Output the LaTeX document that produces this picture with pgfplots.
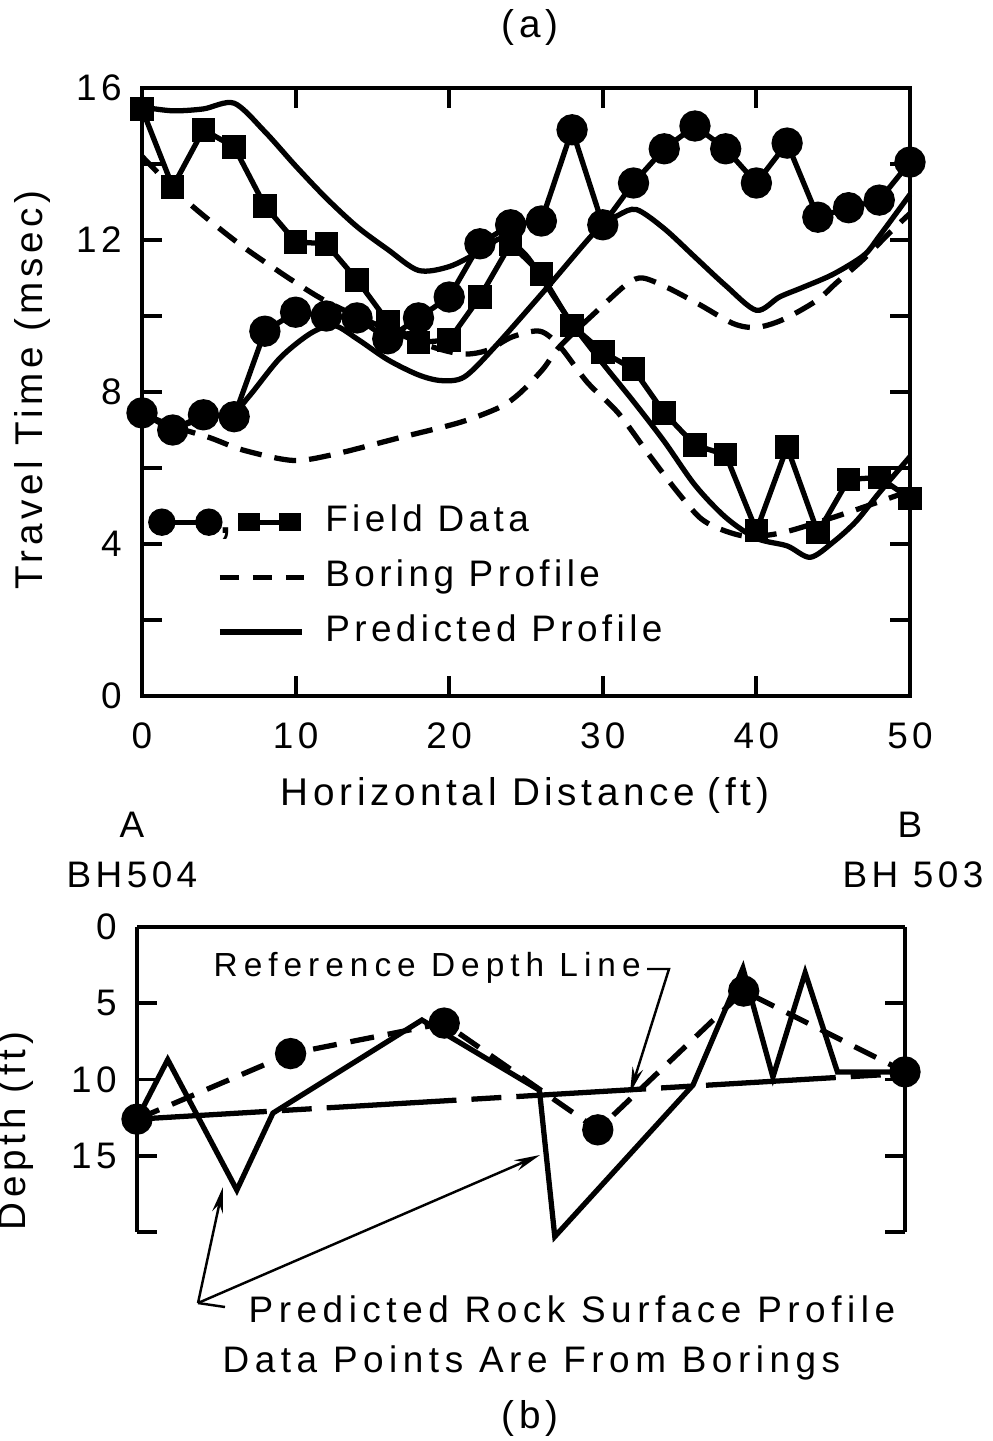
\documentclass[border=0pt]{standalone}
\usepackage{fontspec}
\setmainfont{Liberation Sans}
\newfontfamily\lsf{Liberation Sans}[LetterSpace=12]
\newfontfamily\lsfw{Liberation Sans}[LetterSpace=18]
\newfontfamily\lsfm{Liberation Sans}[LetterSpace=15]
\usepackage{pgfplots}
\pgfplotsset{compat=1.18}
\usetikzlibrary{arrows.meta}

\pgfplotsset{
  mystyle/.style={
    scale only axis,
    axis line style={line width=1.1pt},
    every tick/.style={black, line width=1.1pt},
    major tick length=2mm, minor tick length=2mm,
    tick align=inside,
    /pgf/number format/assume math mode=true,
    ticklabel style={font=\lsf\fontsize{10.5}{12}\selectfont},
  },
  fd/.style={black, line width=1.5pt, forget plot},
  bp/.style={black, line width=1.5pt, dash pattern=on 2.2mm off 1.3mm, smooth, tension=0.5, forget plot},
  pp/.style={black, line width=1.5pt, smooth, tension=0.5, forget plot},
}

\begin{document}
\begin{tikzpicture}[font=\lsf\fontsize{10.5}{12}\selectfont]
\useasboundingbox (0,0) rectangle (99.2mm,-144.1mm);

% ---------------- (a) ----------------
\begin{axis}[mystyle,
  at={(14.2mm,-69.6mm)}, anchor=south west,
  width=76.8mm, height=60.8mm,
  xmin=0, xmax=50, ymin=0, ymax=16,
  xtick={0,10,...,50}, ytick={0,4,...,16}, minor ytick={2,6,10,14},
  xticklabel style={yshift=-1.4mm},
  yticklabel style={xshift=-0.8mm},
  clip=false,
  legend cell align=left,
  legend style={draw=none, fill=none, at={(0.008,0.318)}, anchor=north west,
    inner sep=0pt, outer sep=0pt, row sep=1.6mm, column sep=1.6mm,
    nodes={inner sep=0.3mm, text height=2.6mm, text depth=0.7mm,
      font=\lsf\fontsize{10.5}{12}\selectfont}},
]
% boring profiles
\addplot[bp] coordinates {(0,14.2) (2.7,13.1) (4.9,12.35) (7,11.7) (10.3,10.8) (12.4,10.3) (15.7,9.7) (18.8,9.2) (20.9,9.0) (22.5,9.1) (24.1,9.45) (25.9,9.6) (27.2,9.2) (29,8.25) (31,7.45) (33.1,6.3) (34.8,5.4) (36.3,4.7) (37.6,4.4) (39.4,4.2) (41.7,4.3) (45,4.7) (47.9,5.1) (50,5.4)};
\addplot[bp] coordinates {(0,7.45) (2,7.1) (4.4,6.8) (6.6,6.47) (9.8,6.2) (12.4,6.35) (16.8,6.8) (20.7,7.2) (23.3,7.6) (24.6,7.97) (26.1,8.6) (27.2,9.2) (29.8,10.2) (31.6,10.85) (32.6,11.0) (34.2,10.75) (36.3,10.3) (38.5,9.8) (40,9.7) (41.7,9.9) (43.9,10.4) (45.2,10.87) (46.9,11.47) (48.7,12.2) (50,12.7)};
% predicted profiles
\addplot[pp] coordinates {(0,15.5) (2,15.4) (4,15.45) (6,15.6) (8,14.85) (10,13.95) (12,13.1) (14,12.35) (16,11.75) (18,11.2) (20,11.3) (22,11.7) (23.5,12.05) (25,11.6) (26.4,10.76) (28,9.8) (30,8.75) (32,7.75) (34,6.7) (36,5.55) (38,4.7) (40,4.15) (42,3.95) (43.5,3.65) (45,4.05) (46.5,4.6) (48,5.35) (50,6.3)};
\addplot[pp] coordinates {(0,7.45) (2,7.1) (4,7.3) (6,7.5) (7,7.9) (9,8.9) (11,9.55) (12.5,9.75) (14,9.4) (16,8.85) (18,8.45) (19.5,8.3) (21,8.4) (23,9.2) (26.4,10.76) (29.6,12.26) (31,12.65) (32.2,12.8) (34,12.3) (36,11.55) (38,10.8) (40,10.15) (41.5,10.5) (43,10.75) (45,11.1) (47,11.6) (48,12.1) (50,13.2)};
% field data
\addplot[fd, mark=*, mark size=3.7pt] coordinates {(0,7.45) (2,7.0) (4,7.4) (6,7.35) (8,9.6) (10,10.1) (12,10.0) (14,9.95) (16,9.4) (18,9.95) (20,10.5) (22,11.9) (24,12.4) (26,12.5) (28,14.9) (30,12.4) (32,13.5) (34,14.4) (36,15.0) (38,14.4) (40,13.5) (42,14.55) (44,12.6) (46,12.85) (48,13.05) (50,14.05)};
\addplot[fd, mark=square*, mark size=2.6pt] coordinates {(0,15.45) (2,13.4) (4,14.9) (6,14.45) (8,12.9) (10,11.95) (12,11.9) (14,10.95) (16,9.85) (18,9.3) (20,9.37) (22,10.5) (24,11.9) (26,11.1) (28,9.75) (30,9.05) (32,8.6) (34,7.45) (36,6.6) (38,6.35) (40,4.35) (42,6.55) (44,4.3) (46,5.7) (48,5.75) (50,5.2)};
% legend
\addlegendimage{legend image code/.code={
  \path[draw=none, fill=none] (0,-1.4mm) rectangle (15.2mm,1.4mm);
  \draw[line width=1.4pt, solid] (1.2mm,0) -- (5.9mm,0);
  \fill (1.2mm,0) circle (1.3mm);
  \fill (5.9mm,0) circle (1.3mm);
  \node[inner sep=0pt, anchor=base, font=\bfseries\fontsize{11}{12}\selectfont] at (7.6mm,-1.1mm) {,};
  \draw[line width=1.4pt, solid] (9.9mm,0) -- (14mm,0);
  \fill (8.9mm,-0.85mm) rectangle (10.9mm,0.85mm);
  \fill (13mm,-0.85mm) rectangle (15mm,0.85mm);
}}
\addlegendentry{Field Data}
\addlegendimage{legend image code/.code={
  \path[draw=none, fill=none] (0,-1.4mm) rectangle (15.2mm,1.4mm);
  \draw[line width=1.4pt, dash pattern=on 1.9mm off 1.4mm] (7mm,0) -- (15.4mm,0);
}}
\addlegendentry{Boring Profile}
\addlegendimage{legend image code/.code={
  \path[draw=none, fill=none] (0,-1.4mm) rectangle (15.2mm,1.4mm);
  \draw[line width=1.6pt, solid] (7mm,0) -- (15.2mm,0);
}}
\addlegendentry{Predicted Profile}
\end{axis}

% ---------------- (b) ----------------
\begin{axis}[mystyle,
  at={(13.7mm,-92.7mm)}, anchor=north west,
  width=76.8mm, height=30.5mm,
  xmin=0, xmax=50, ymin=0, ymax=20, y dir=reverse,
  axis x line*=top, axis y line*=box,
  xtick=\empty,
  ytick={0,5,10,15,20}, yticklabels={0,5,10,15,},
  yticklabel style={xshift=-0.8mm},
  clip=false,
]
% reference depth line
\addplot[black, line width=1.5pt, dash pattern=on 13mm off 1.5mm on 3mm off 1.5mm, forget plot] coordinates {(0,12.6) (50,9.6)};
% boring data
\addplot[black, line width=1.5pt, dash pattern=on 2.4mm off 1.4mm, mark=*, mark size=3.7pt, mark options={solid}, forget plot] coordinates {(0,12.6) (10,8.3) (20,6.3) (30,13.3) (39.5,4.2) (50,9.5)};
% predicted rock surface profile
\addplot[black, line width=1.5pt, forget plot] coordinates {(0,12.6) (2,8.7) (6.5,17.25) (8.85,12.2) (18.55,6.1) (26.2,10.7) (27.2,20.3) (36.2,10.36) (39.45,2.7) (41.4,9.84) (43.5,3.0) (45.6,9.5) (50,9.5)};
\end{axis}

% ---------------- texts ----------------
\node[font=\lsf\fontsize{11}{13}\selectfont] at (53mm,-2.8mm) {(a)};
\node[rotate=90, anchor=base, font=\lsf\fontsize{11}{13}\selectfont] at (4.2mm,-39mm) {Travel Time (msec)};
\node[font=\lsf\fontsize{11}{13}\selectfont] at (52.5mm,-79.5mm) {Horizontal Distance\,\,(ft)};
\node[font=\lsf\fontsize{10.5}{12}\selectfont] at (13.2mm,-82.5mm) {A};
\node[font=\lsf\fontsize{10.5}{12}\selectfont] at (13.2mm,-87.5mm) {BH504};
\node[font=\lsf\fontsize{10.5}{12}\selectfont] at (91mm,-82.5mm) {B};
\node[font=\lsf\fontsize{10.5}{12}\selectfont] at (91.3mm,-87.5mm) {BH 503};
\node[rotate=90, anchor=base, font=\lsf\fontsize{11}{13}\selectfont] at (2.6mm,-113.1mm) {Depth (ft)};
\node[anchor=west, inner sep=0pt, font=\lsfw\fontsize{9.5}{11}\selectfont] at (21.3mm,-96.8mm) {Reference Depth Line};
\draw[line width=0.7pt, -{Stealth[length=2.6mm,width=1.1mm]}] (64.7mm,-96.9mm) -- (66.9mm,-96.9mm) -- (63.0mm,-109.3mm);
\node[anchor=base west, inner sep=0pt, font=\lsfm\fontsize{10.5}{12}\selectfont] at (24.8mm,-132.2mm) {Predicted Rock Surface Profile};
\node[anchor=base west, inner sep=0pt, font=\lsfm\fontsize{10.5}{12}\selectfont] at (22.2mm,-137.2mm) {Data Points Are From Borings};
\node[font=\lsf\fontsize{11}{13}\selectfont] at (53mm,-141.8mm) {(b)};
\draw[line width=0.7pt, -{Stealth[length=2.6mm,width=1.1mm]}] (19.8mm,-130.3mm) -- (22.3mm,-118.7mm);
\draw[line width=0.7pt, -{Stealth[length=2.6mm,width=1.1mm]}] (19.8mm,-130.3mm) -- (54.0mm,-115.5mm);
\draw[line width=0.7pt] (19.8mm,-130.3mm) -- (22.5mm,-130.7mm);
\end{tikzpicture}
\end{document}
